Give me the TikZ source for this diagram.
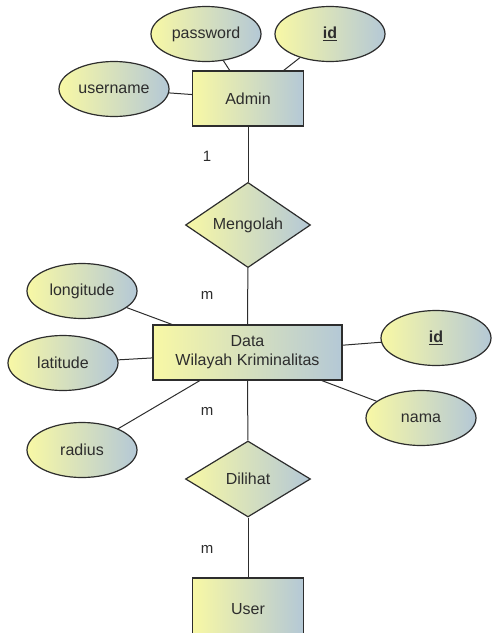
\documentclass[tikz,border=0pt]{standalone}
\usepackage{fontspec}
\setmainfont{Liberation Sans}
\usetikzlibrary{shapes.geometric}
\definecolor{erYellow}{RGB}{248,248,165}
\definecolor{erBlue}{RGB}{180,200,214}
\definecolor{erLine}{RGB}{45,45,45}

\begin{document}
\begin{tikzpicture}[
  x=1pt, y=-1pt,
  entity/.style={draw=erLine, line width=1.2pt, shading=axis, left color=erYellow, right color=erBlue, minimum width=111pt, minimum height=55pt, inner sep=0pt, font=\fontsize{16}{19}\selectfont, text=erLine, align=center},
  attrib/.style={ellipse, draw=erLine, line width=1.2pt, shading=axis, left color=erYellow, right color=erBlue, minimum width=110pt, minimum height=55pt, inner sep=0pt, font=\fontsize{16}{19}\selectfont, text=erLine},
  relation/.style={diamond, draw=erLine, line width=1.2pt, shading=axis, left color=erYellow, right color=erBlue, minimum width=125pt, minimum height=76pt, inner sep=0pt, font=\fontsize{16}{19}\selectfont, text=erLine},
  link/.style={draw=erLine, line width=1pt},
  card/.style={font=\fontsize{15}{17}\selectfont, text=erLine}
]
  \useasboundingbox (0,0) rectangle (491,633);

  % Admin entity
  \node[entity] (admin) at (248,98.5) {Admin};
  \node[attrib] (password) at (206,34) {password};
  \node[attrib] (adminid) at (330,34) {\underline{\textbf{id}}};
  \node[attrib] (username) at (114,89) {username};

  % Mengolah
  \node[relation] (mengolah) at (248,225) {Mengolah};

  % Data Wilayah Kriminalitas
  \node[entity, minimum width=189pt] (data) at (247.5,352.5) {Data\\Wilayah Kriminalitas};
  \node[attrib] (longitude) at (82,291) {longitude};
  \node[attrib] (latitude) at (63,363) {latitude};
  \node[attrib] (radius) at (82,450) {radius};
  \node[attrib] (dataid) at (436,338) {\underline{\textbf{id}}};
  \node[attrib] (nama) at (421,418) {nama};

  % Dilihat
  \node[relation] (dilihat) at (248,479) {Dilihat};

  % User
  \node[entity, minimum height=62pt] (user) at (248,609) {User};

  % Links
  \draw[link] (password) -- (admin);
  \draw[link] (adminid) -- (admin);
  \draw[link] (username) -- (admin);
  \draw[link] (admin) -- (mengolah);
  \draw[link] (mengolah) -- (data);
  \draw[link] (longitude) -- (data);
  \draw[link] (latitude) -- (data);
  \draw[link] (radius) -- (data);
  \draw[link] (dataid) -- (data);
  \draw[link] (nama) -- (data);
  \draw[link] (data) -- (dilihat);
  \draw[link] (dilihat) -- (user);

  % Cardinalities
  \node[card] (c1) at (207,156) {1};
  \node[card] (c2) at (207,295) {m};
  \node[card] (c3) at (207,411) {m};
  \node[card] (c4) at (207,549) {m};
\end{tikzpicture}
\end{document}
